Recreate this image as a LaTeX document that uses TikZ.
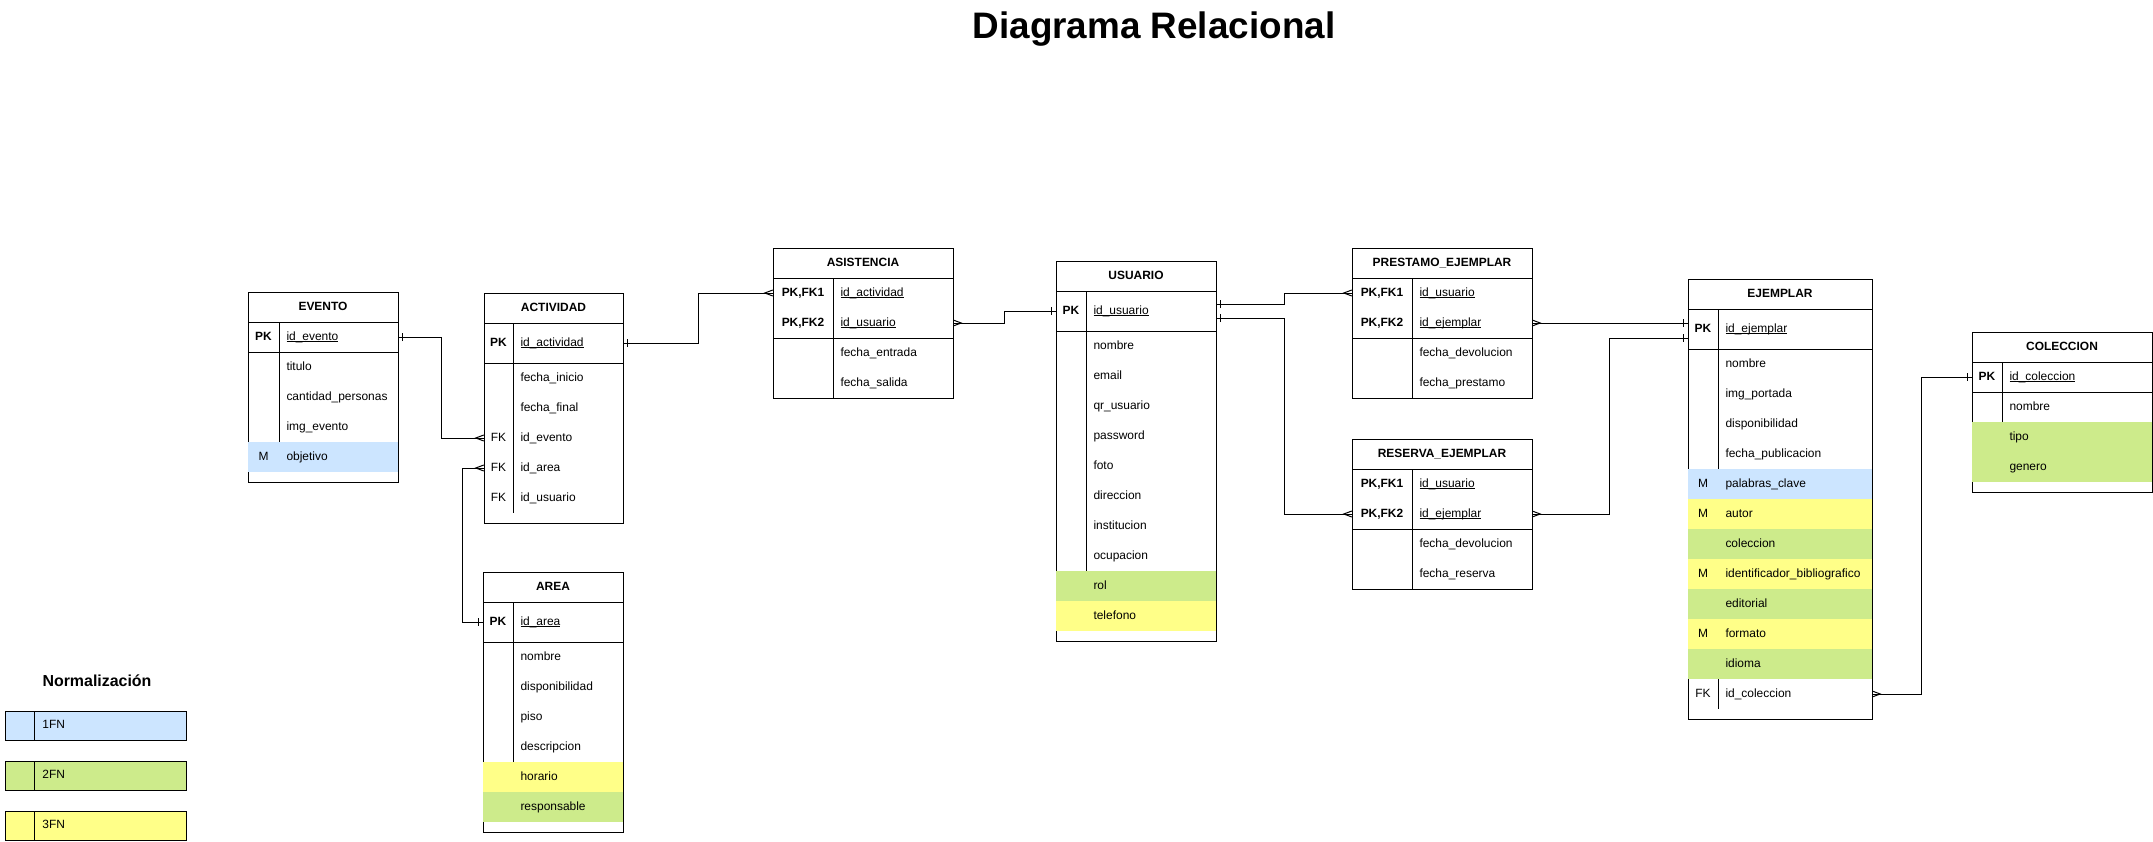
\documentclass[tikz,border=0pt]{standalone}
\usepackage{fontspec}
\setmainfont{Liberation Sans}

\definecolor{n1}{HTML}{CCE5FF}
\definecolor{n2}{HTML}{CDEB8B}
\definecolor{n3}{HTML}{FFFF88}

% campo subrayado (clave primaria)
\newcommand{\pkcampo}[1]{\setbox0\hbox{#1}\rlap{\rule[-2bp]{\wd0}{0.8bp}}\box0}

% crow's foot ends
\pgfdeclarearrow{
  name = ermany,
  setup code = {
    \pgfarrowssettipend{0pt}
    \pgfarrowssetlineend{0pt}
    \pgfarrowssetbackend{-8bp}
    \pgfarrowssetvisualbackend{-8bp}
  },
  drawing code = {
    \pgfpathmoveto{\pgfqpoint{0pt}{3bp}}
    \pgfpathlineto{\pgfqpoint{-8bp}{0pt}}
    \pgfpathlineto{\pgfqpoint{0pt}{-3bp}}
    \pgfusepathqstroke
  }
}
\pgfdeclarearrow{
  name = erone,
  setup code = {
    \pgfarrowssettipend{0pt}
    \pgfarrowssetlineend{0pt}
    \pgfarrowssetbackend{-5bp}
    \pgfarrowssetvisualbackend{-5bp}
  },
  drawing code = {
    \pgfpathmoveto{\pgfqpoint{-4bp}{4bp}}
    \pgfpathlineto{\pgfqpoint{-4bp}{-4bp}}
    \pgfusepathqstroke
  }
}

\tikzset{
  tbl/.style={line width=1bp},
  hd/.style={inner sep=0pt, text height=9bp, text depth=2.5bp, font=\fontsize{12}{14}\selectfont\bfseries},
  kc/.style={minimum width=#1, minimum height=30bp, inner sep=0pt, text height=9bp, text depth=2.5bp, font=\fontsize{12}{14}\selectfont},
  fc/.style={minimum height=30bp, inner xsep=7.5bp, inner ysep=0pt, text width=#1, align=left, text height=9bp, text depth=2.5bp, font=\fontsize{12}{14}\selectfont},
  rel/.style={line width=1bp, erone-ermany},
}

\begin{document}
\begin{tikzpicture}[x=1bp, y=-1bp]
\useasboundingbox (0,0) rectangle (2153,842);

\node[font=\fontsize{37}{44}\selectfont\bfseries] (titulo) at (1154,29) {Diagrama Relacional};

% EVENTO
\draw[tbl] (248,292) rectangle (398,482);
\draw[tbl] (248,322) -- (398,322) (248,352) -- (398,352) (279,322) -- (279,442);
\node[hd] (evento) at (323,307) {EVENTO};
\node[kc=31bp] (ev-pk) at (263.5,337) {\textbf{PK}};
\node[fc=104bp] (ev-id) at (338.5,337) {\pkcampo{id\_evento}};
\foreach \k/\f/\c [count=\i] in {/titulo/none, /cantidad\_personas/none, /img\_evento/none, M/objetivo/n1}
{
  \node[kc=31bp, fill=\c] (ev-k\i) at (263.5,337+30*\i) {\k};
  \node[fc=104bp, fill=\c] (ev-f\i) at (338.5,337+30*\i) {\f};
}

% ACTIVIDAD
\draw[tbl] (484,293) rectangle (623,523);
\draw[tbl] (484,323) -- (623,323) (484,363) -- (623,363) (513,323) -- (513,513);
\node[hd] (actividad) at (553.5,308) {ACTIVIDAD};
\node[kc=29bp, minimum height=40bp] (ac-pk) at (498.5,343) {\textbf{PK}};
\node[fc=95bp, minimum height=40bp] (ac-id) at (568,343) {\pkcampo{id\_actividad}};
\foreach \k/\f [count=\i] in {/fecha\_inicio, /fecha\_final, FK/id\_evento, FK/id\_area, FK/id\_usuario}
{
  \node[kc=29bp] (ac-k\i) at (498.5,348+30*\i) {\k};
  \node[fc=95bp] (ac-f\i) at (568,348+30*\i) {\f};
}

% AREA
\draw[tbl] (483,572) rectangle (623,832);
\draw[tbl] (483,602) -- (623,602) (483,642) -- (623,642) (513,602) -- (513,762);
\node[hd] (area) at (553,587) {AREA};
\node[kc=30bp, minimum height=40bp] (ar-pk) at (498,622) {\textbf{PK}};
\node[fc=95bp, minimum height=40bp] (ar-id) at (568,622) {\pkcampo{id\_area}};
\foreach \f/\c [count=\i] in {nombre/none, disponibilidad/none, piso/none, descripcion/none, horario/n3, responsable/n2}
{
  \node[kc=30bp, fill=\c] (ar-k\i) at (498,627+30*\i) {};
  \node[fc=95bp, fill=\c] (ar-f\i) at (568,627+30*\i) {\f};
}

% ASISTENCIA
\draw[tbl] (773,248) rectangle (953,398);
\draw[tbl] (773,278) -- (953,278) (773,338) -- (953,338) (833,278) -- (833,398);
\node[hd] (asistencia) at (863,263) {ASISTENCIA};
\node[kc=60bp] (as-k1) at (803,293) {\textbf{PK,FK1}};
\node[fc=105bp] (as-f1) at (893,293) {\pkcampo{id\_actividad}};
\node[kc=60bp] (as-k2) at (803,323) {\textbf{PK,FK2}};
\node[fc=105bp] (as-f2) at (893,323) {\pkcampo{id\_usuario}};
\foreach \f [count=\i from 3] in {fecha\_entrada, fecha\_salida}
  \node[fc=105bp] (as-f\i) at (893,263+30*\i) {\f};

% USUARIO
\draw[tbl] (1056,261) rectangle (1216,641);
\draw[tbl] (1056,291) -- (1216,291) (1056,331) -- (1216,331) (1086,291) -- (1086,571);
\node[hd] (usuario) at (1136,276) {USUARIO};
\node[kc=30bp, minimum height=40bp] (us-pk) at (1071,311) {\textbf{PK}};
\node[fc=115bp, minimum height=40bp] (us-id) at (1151,311) {\pkcampo{id\_usuario}};
\foreach \f/\c [count=\i] in {nombre/none, email/none, qr\_usuario/none, password/none, foto/none, direccion/none, institucion/none, ocupacion/none, rol/n2, telefono/n3}
{
  \node[kc=30bp, fill=\c] (us-k\i) at (1071,316+30*\i) {};
  \node[fc=115bp, fill=\c] (us-f\i) at (1151,316+30*\i) {\f};
}

% PRESTAMO_EJEMPLAR
\draw[tbl] (1352,248) rectangle (1532,398);
\draw[tbl] (1352,278) -- (1532,278) (1352,338) -- (1532,338) (1412,278) -- (1412,398);
\node[hd] (prestamo) at (1442,263) {PRESTAMO\_EJEMPLAR};
\node[kc=60bp] (pr-k1) at (1382,293) {\textbf{PK,FK1}};
\node[fc=105bp] (pr-f1) at (1472,293) {\pkcampo{id\_usuario}};
\node[kc=60bp] (pr-k2) at (1382,323) {\textbf{PK,FK2}};
\node[fc=105bp] (pr-f2) at (1472,323) {\pkcampo{id\_ejemplar}};
\foreach \f [count=\i from 3] in {fecha\_devolucion, fecha\_prestamo}
  \node[fc=105bp] (pr-f\i) at (1472,263+30*\i) {\f};

% RESERVA_EJEMPLAR
\draw[tbl] (1352,439) rectangle (1532,589);
\draw[tbl] (1352,469) -- (1532,469) (1352,529) -- (1532,529) (1412,469) -- (1412,589);
\node[hd] (reserva) at (1442,454) {RESERVA\_EJEMPLAR};
\node[kc=60bp] (re-k1) at (1382,484) {\textbf{PK,FK1}};
\node[fc=105bp] (re-f1) at (1472,484) {\pkcampo{id\_usuario}};
\node[kc=60bp] (re-k2) at (1382,514) {\textbf{PK,FK2}};
\node[fc=105bp] (re-f2) at (1472,514) {\pkcampo{id\_ejemplar}};
\foreach \f [count=\i from 3] in {fecha\_devolucion, fecha\_reserva}
  \node[fc=105bp] (re-f\i) at (1472,454+30*\i) {\f};

% EJEMPLAR
\draw[tbl] (1688,279) rectangle (1872,719);
\draw[tbl] (1688,309) -- (1872,309) (1688,349) -- (1872,349) (1718,309) -- (1718,469) (1718,679) -- (1718,709);
\node[hd] (ejemplar) at (1780,294) {EJEMPLAR};
\node[kc=30bp, minimum height=40bp] (ej-pk) at (1703,329) {\textbf{PK}};
\node[fc=139bp, minimum height=40bp] (ej-id) at (1795,329) {\pkcampo{id\_ejemplar}};
\foreach \k/\f/\c [count=\i] in {/nombre/none, /img\_portada/none, /disponibilidad/none, /fecha\_publicacion/none,
    M/palabras\_clave/n1, M/autor/n3, /coleccion/n2, M/identificador\_bibliografico/n3,
    /editorial/n2, M/formato/n3, /idioma/n2, FK/id\_coleccion/none}
{
  \node[kc=30bp, fill=\c] (ej-k\i) at (1703,334+30*\i) {\k};
  \node[fc=139bp, fill=\c] (ej-f\i) at (1795,334+30*\i) {\f};
}

% COLECCION
\draw[tbl] (1972,332) rectangle (2152,492);
\draw[tbl] (1972,362) -- (2152,362) (1972,392) -- (2152,392) (2002,362) -- (2002,422);
\node[hd] (coleccion) at (2062,347) {COLECCION};
\node[kc=30bp] (co-pk) at (1987,377) {\textbf{PK}};
\node[fc=135bp] (co-id) at (2077,377) {\pkcampo{id\_coleccion}};
\foreach \f/\c [count=\i] in {nombre/none, tipo/n2, genero/n2}
{
  \node[kc=30bp, fill=\c] (co-k\i) at (1987,377+30*\i) {};
  \node[fc=135bp, fill=\c] (co-f\i) at (2077,377+30*\i) {\f};
}

% relaciones
\draw[rel] (ev-id.east) -- ++(43,0) |- (ac-k3.west);
\draw[rel] (ar-pk.west) -- ++(-20,0) |- (ac-k4.west);
\draw[rel] (ac-id.east) -- ++(75,0) |- (as-k1.west);
\draw[rel] (us-pk.west) -- ++(-51,0) |- (as-f2.east);
\draw[rel] ([yshift=7bp]us-id.east) -- ++(68,0) |- (pr-k1.west);
\draw[rel] ([yshift=-7bp]us-id.east) -- ++(68,0) |- (re-k2.west);
\draw[rel] (ej-pk.west |- pr-f2.east) -- (pr-f2.east);
\draw[rel] ([yshift=-9bp]ej-pk.west) -- ++(-78,0) |- (re-f2.east);
\draw[rel] (co-pk.west) -- ++(-50,0) |- (ej-f12.east);

% leyenda
\node[font=\fontsize{16}{19}\selectfont\bfseries] (norm) at (97,681) {Normalización};
\foreach \t/\c [count=\i] in {1FN/n1, 2FN/n2, 3FN/n3}
{
  \node[kc=29bp, draw, line width=1bp, fill=\c, minimum height=29bp] (lg-k\i) at (20.5,675.5+50*\i) {};
  \node[fc=136bp, draw, line width=1bp, fill=\c, minimum height=29bp] (lg-f\i) at (110.5,675.5+50*\i) {\t};
}
\end{tikzpicture}
\end{document}
